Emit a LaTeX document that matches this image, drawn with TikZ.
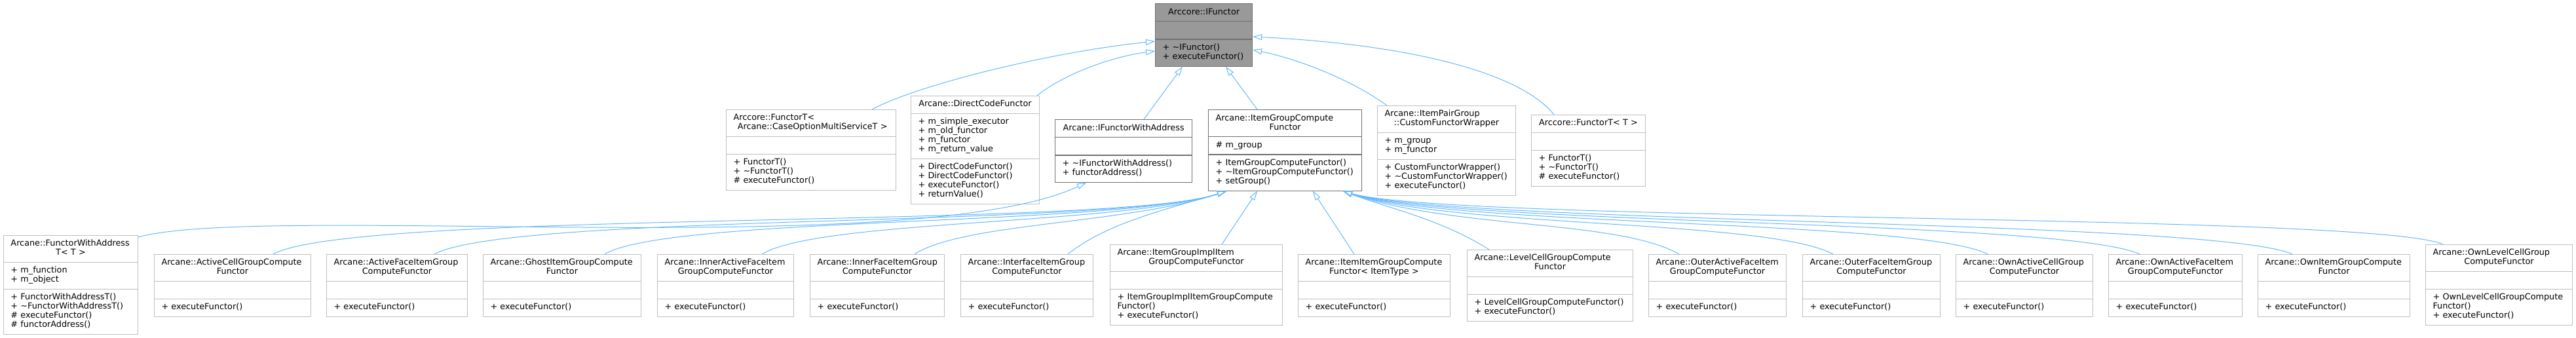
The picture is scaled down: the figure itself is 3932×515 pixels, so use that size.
\documentclass[tikz,border=0pt]{standalone}
\usepackage{fontspec}
\setmainfont{DejaVu Sans}
\usepackage{tikz}
\usetikzlibrary{arrows.meta,shapes.multipart,calc}
\definecolor{clsline}{HTML}{BFBFBF}
\definecolor{clsdark}{HTML}{707070}
\definecolor{clsfill}{HTML}{999999}
\definecolor{inhblue}{HTML}{63B8FF}
\newcommand\clsfont{\fontsize{6.4}{7}\selectfont}
% title: one centred line, or a left line over a centred one
\newcommand\ttl[1]{\makebox[\linewidth]{\strut#1}}
\newcommand\ttll[2]{\makebox[\linewidth][l]{\strut#1}\par\makebox[\linewidth]{\strut#2}}
\newcommand\mm[1]{\strut#1\par}

\begin{document}
\begin{tikzpicture}[
  x=0.5pt, y=-0.5pt,
  cls/.style={rectangle split, rectangle split parts=3, draw=clsline,
    line width=0.5pt, fill=white, inner xsep=5.5pt, inner ysep=3pt,
    text width={#1*0.5pt-11pt}, anchor=north west, font=\clsfont},
  linked/.style={draw=clsdark, line width=0.6pt},
  inh/.style={draw=inhblue, line width=0.5pt,
    -{Triangle[open, length=7pt, width=4.5pt]}},
  ]
  \path[use as bounding box, fill=white] (0,0) rectangle (3932,515);

  % The base interface.
  \node[cls=148, linked, fill=clsfill] (ifunctor) at (1763,5)
    {\ttl{Arccore::IFunctor}\nodepart{two}\strut
     \nodepart{three}\mm{+ \textasciitilde IFunctor()}\mm{+ executeFunctor()}};

  % Direct subclasses.
  \node[cls=259] (ftcase) at (1108,167)
    {\ttll{Arccore::FunctorT<}{ Arcane::CaseOptionMultiServiceT >}\nodepart{two}\strut
     \nodepart{three}\mm{+ FunctorT()}\mm{+ \textasciitilde FunctorT()}\mm{\# executeFunctor()}};
  \node[cls=196] (directcode) at (1390,146)
    {\ttl{Arcane::DirectCodeFunctor}
     \nodepart{two}\mm{+ m\_simple\_executor}\mm{+ m\_old\_functor}\mm{+ m\_functor}\mm{+ m\_return\_value}
     \nodepart{three}\mm{+ DirectCodeFunctor()}\mm{+ DirectCodeFunctor()}\mm{+ executeFunctor()}\mm{+ returnValue()}};
  \node[cls=209, linked] (ifwa) at (1610,182)
    {\ttl{Arcane::IFunctorWithAddress}\nodepart{two}\strut
     \nodepart{three}\mm{+ \textasciitilde IFunctorWithAddress()}\mm{+ functorAddress()}};
  \node[cls=234, linked] (igcf) at (1844,167)
    {\ttll{Arcane::ItemGroupCompute}{Functor}\nodepart{two}\mm{\# m\_group}
     \nodepart{three}\mm{+ ItemGroupComputeFunctor()}\mm{+ \textasciitilde ItemGroupComputeFunctor()}\mm{+ setGroup()}};
  \node[cls=211] (cfw) at (2102,161)
    {\ttll{Arcane::ItemPairGroup}{::CustomFunctorWrapper}
     \nodepart{two}\mm{+ m\_group}\mm{+ m\_functor}
     \nodepart{three}\mm{+ CustomFunctorWrapper()}\mm{+ \textasciitilde CustomFunctorWrapper()}\mm{+ executeFunctor()}};
  \node[cls=174] (ftt) at (2337,175)
    {\ttl{Arccore::FunctorT< T >}\nodepart{two}\strut
     \nodepart{three}\mm{+ FunctorT()}\mm{+ \textasciitilde FunctorT()}\mm{\# executeFunctor()}};

  % Bottom row.
  \node[cls=205] (fwa) at (5,359)
    {\ttll{Arcane::FunctorWithAddress}{T< T >}
     \nodepart{two}\mm{+ m\_function}\mm{+ m\_object}
     \nodepart{three}\mm{+ FunctorWithAddressT()}\mm{+ \textasciitilde FunctorWithAddressT()}\mm{\# executeFunctor()}\mm{\# functorAddress()}};
  \node[cls=239] (activecell) at (235,388)
    {\ttll{Arcane::ActiveCellGroupCompute}{Functor}\nodepart{two}\strut\nodepart{three}\mm{+ executeFunctor()}};
  \node[cls=215] (activeface) at (498,388)
    {\ttll{Arcane::ActiveFaceItemGroup}{ComputeFunctor}\nodepart{two}\strut\nodepart{three}\mm{+ executeFunctor()}};
  \node[cls=241] (ghost) at (737,388)
    {\ttll{Arcane::GhostItemGroupCompute}{Functor}\nodepart{two}\strut\nodepart{three}\mm{+ executeFunctor()}};
  \node[cls=208] (inneractive) at (1003,388)
    {\ttll{Arcane::InnerActiveFaceItem}{GroupComputeFunctor}\nodepart{two}\strut\nodepart{three}\mm{+ executeFunctor()}};
  \node[cls=205] (innerface) at (1236,388)
    {\ttll{Arcane::InnerFaceItemGroup}{ComputeFunctor}\nodepart{two}\strut\nodepart{three}\mm{+ executeFunctor()}};
  \node[cls=202] (interface) at (1466,388)
    {\ttll{Arcane::InterfaceItemGroup}{ComputeFunctor}\nodepart{two}\strut\nodepart{three}\mm{+ executeFunctor()}};
  \node[cls=263] (groupimpl) at (1694,373)
    {\ttll{Arcane::ItemGroupImplItem}{GroupComputeFunctor}\nodepart{two}\strut
     \nodepart{three}\mm{+ ItemGroupImplItemGroupCompute}\mm{Functor()}\mm{+ executeFunctor()}};
  \node[cls=232] (itemitem) at (1981,388)
    {\ttll{Arcane::ItemItemGroupCompute}{Functor< ItemType >}\nodepart{two}\strut\nodepart{three}\mm{+ executeFunctor()}};
  \node[cls=253] (level) at (2239,381)
    {\ttll{Arcane::LevelCellGroupCompute}{Functor}\nodepart{two}\strut
     \nodepart{three}\mm{+ LevelCellGroupComputeFunctor()}\mm{+ executeFunctor()}};
  \node[cls=210] (outeractive) at (2516,388)
    {\ttll{Arcane::OuterActiveFaceItem}{GroupComputeFunctor}\nodepart{two}\strut\nodepart{three}\mm{+ executeFunctor()}};
  \node[cls=210] (outerface) at (2751,388)
    {\ttll{Arcane::OuterFaceItemGroup}{ComputeFunctor}\nodepart{two}\strut\nodepart{three}\mm{+ executeFunctor()}};
  \node[cls=209] (ownactivecell) at (2985,388)
    {\ttll{Arcane::OwnActiveCellGroup}{ComputeFunctor}\nodepart{two}\strut\nodepart{three}\mm{+ executeFunctor()}};
  \node[cls=204] (ownactiveface) at (3218,388)
    {\ttll{Arcane::OwnActiveFaceItem}{GroupComputeFunctor}\nodepart{two}\strut\nodepart{three}\mm{+ executeFunctor()}};
  \node[cls=232] (ownitem) at (3446,388)
    {\ttll{Arcane::OwnItemGroupCompute}{Functor}\nodepart{two}\strut\nodepart{three}\mm{+ executeFunctor()}};
  \node[cls=224] (ownlevel) at (3702,373)
    {\ttll{Arcane::OwnLevelCellGroup}{ComputeFunctor}\nodepart{two}\strut
     \nodepart{three}\mm{+ OwnLevelCellGroupCompute}\mm{Functor()}\mm{+ executeFunctor()}};

  % Inheritance to the base interface.
  \draw[inh] ($(ftcase.north west)+(223,0)$) .. controls (1400,130) and (1600,80) .. ($(ifunctor.north west)+(0,58)$);
  \draw[inh] ($(directcode.north east)+(-4,0)$) .. controls (1625,112) and (1700,86) .. ($(ifunctor.north west)+(0,73)$);
  \draw[inh] ($(ifwa.north west)+(136,0)$) -- ($(ifunctor.south west)+(42,0)$);
  \draw[inh] ($(igcf.north west)+(75,0)$) -- ($(ifunctor.south west)+(108,0)$);
  \draw[inh] ($(cfw.north west)+(15,0)$) .. controls (2060,120) and (1980,90) .. ($(ifunctor.north east)+(0,71)$);
  \draw[inh] ($(ftt.north west)+(35,0)$) .. controls (2320,110) and (2150,68) .. ($(ifunctor.north east)+(0,51)$);

  % Second level.
  \draw[inh] ($(fwa.north east)+(0,3)$) .. controls (400,310) and (1400,400) .. ($(ifwa.south west)+(48,0)$);
  \draw[inh] ($(activecell.north west)+(182,0)$) .. controls (540,320) and (1700,350) .. ($(igcf.south west)+(28,0)$);
  \draw[inh] ($(activeface.north west)+(165,0)$) .. controls (780,325) and (1700,348) .. ($(igcf.south west)+(28,0)$);
  \draw[inh] ($(ghost.north west)+(186,0)$) .. controls (1020,330) and (1700,346) .. ($(igcf.south west)+(28,0)$);
  \draw[inh] ($(inneractive.north west)+(160,0)$) .. controls (1250,335) and (1710,344) .. ($(igcf.south west)+(28,0)$);
  \draw[inh] ($(innerface.north west)+(160,0)$) .. controls (1470,340) and (1720,342) .. ($(igcf.south west)+(28,0)$);
  \draw[inh] ($(interface.north west)+(164,0)$) .. controls (1690,340) and (1780,320) .. ($(igcf.south west)+(28,0)$);
  \draw[inh] ($(groupimpl.north west)+(171,0)$) -- ($(igcf.south west)+(75,0)$);
  \draw[inh] ($(itemitem.north west)+(86,0)$) -- ($(igcf.south west)+(160,0)$);
  \draw[inh] ($(level.north west)+(34,0)$) .. controls (2200,335) and (2120,318) .. ($(igcf.south west)+(206,0)$);
  \draw[inh] ($(outeractive.north west)+(47,0)$) .. controls (2470,335) and (2220,350) .. ($(igcf.south west)+(206,0)$);
  \draw[inh] ($(outerface.north west)+(47,0)$) .. controls (2700,335) and (2220,348) .. ($(igcf.south west)+(206,0)$);
  \draw[inh] ($(ownactivecell.north west)+(49,0)$) .. controls (2930,335) and (2220,346) .. ($(igcf.south west)+(206,0)$);
  \draw[inh] ($(ownactiveface.north west)+(48,0)$) .. controls (3150,335) and (2220,344) .. ($(igcf.south west)+(206,0)$);
  \draw[inh] ($(ownitem.north west)+(53,0)$) .. controls (3380,335) and (2220,342) .. ($(igcf.south west)+(206,0)$);
  \draw[inh] ($(ownlevel.north west)+(27,0)$) .. controls (3620,325) and (2220,340) .. ($(igcf.south west)+(206,0)$);
\end{tikzpicture}
\end{document}
